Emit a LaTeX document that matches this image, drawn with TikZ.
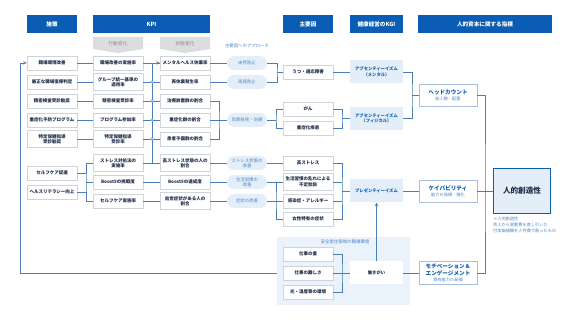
\documentclass[tikz,border=0pt]{standalone}
\usepackage{fontspec}
\setmainfont{Noto Sans CJK JP}
\usetikzlibrary{calc}

\definecolor{hmhead}{HTML}{0B5DB3}
\definecolor{hmline}{HTML}{4B7DB8}
\definecolor{hmpale}{HTML}{E3EEF9}
\definecolor{hmzone}{HTML}{EAF2FB}
\definecolor{hmedge}{HTML}{CFD4DB}
\definecolor{hmcapedge}{HTML}{A9C0DC}
\definecolor{hmtext}{HTML}{1E2C48}
\definecolor{hmsoft}{HTML}{4A86C8}
\definecolor{hmtab}{HTML}{DCDDDF}
\definecolor{hmtabtext}{HTML}{8C8C8C}

\newcommand{\hmsubfont}{\fontsize{4.2}{5}\selectfont\mdseries\color{hmsoft}}

\tikzset{
    hm head/.style={fill=hmhead, text=white, minimum height=18pt, inner sep=0pt,
                    font=\fontsize{5.6}{6.4}\selectfont\bfseries},
    hm cell/.style={draw=hmedge, fill=white, line width=0.5pt, minimum width=50pt,
                    minimum height=14pt, inner sep=1pt, align=center, text=hmtext,
                    font=\fontsize{4.5}{5.4}\selectfont\bfseries},
    hm tall/.style={hm cell, minimum height=17pt},
    hm oval/.style={fill=hmpale, rounded corners=7pt, minimum width=40pt,
                    minimum height=14pt, inner sep=1pt, align=center, text=hmsoft,
                    font=\fontsize{4.4}{5.2}\selectfont},
    hm kgi/.style={fill=hmpale, minimum width=53pt, minimum height=23pt,
                   inner sep=1pt, align=center, text=hmhead,
                   font=\fontsize{4.3}{5.6}\selectfont\bfseries},
    hm capital/.style={draw=hmcapedge, fill=white, line width=0.6pt,
                       minimum width=58pt, minimum height=22pt, inner sep=1pt,
                       align=center, text=hmhead,
                       font=\fontsize{5.6}{6.4}\selectfont\bfseries},
    hm tabtext/.style={text=hmtabtext, font=\fontsize{4.8}{5.6}\selectfont},
    hm label/.style={text=hmsoft, font=\fontsize{4.4}{5.2}\selectfont},
    hm link/.style={draw=hmline, line width=0.6pt},
    hm arrow/.style={hm link, ->, >=stealth},
    hm dot/.style={circle, draw=hmline, fill=white, line width=0.4pt,
                   inner sep=0pt, minimum size=2.6pt},
}

\begin{document}
\begin{tikzpicture}[x=1pt, y=-1pt]
    \useasboundingbox (0,0) rectangle (571,320);
    \fill[white] (0,0) rectangle (571,320);

    % Column headers
    \node[hm head, minimum width=50pt]  (hPlan) at (52,24)    {施策};
    \node[hm head, minimum width=117pt] (hKpi)  at (151.5,24) {KPI};
    \node[hm head, minimum width=50pt]  (hCause) at (308,24)  {主要因};
    \node[hm head, minimum width=53pt]  (hKgi)  at (376.5,24) {健康経営のKGI};
    \node[hm head, minimum width=134pt] (hCap)  at (485,24)   {人的資本に関する指標};

    % KPI sub tabs
    \fill[hmtab] (93,37) -- (143,37) -- (143,49) -- (118,53) -- (93,49) -- cycle;
    \fill[hmtab] (160,37) -- (210,37) -- (210,49) -- (185,53) -- (160,49) -- cycle;
    \node[hm tabtext] (tAct)   at (118,43.5) {行動変化};
    \node[hm tabtext] (tState) at (185,43.5) {状態変化};
    \node[hm label] (lApp) at (247,46) {主要因へのアプローチ};

    % Workplace zone (back layer)
    \node[fill=hmzone, minimum width=133pt, minimum height=68pt, inner sep=0pt]
        (zone) at (343.5,271) {};
    \node[hm label] (lZone) at (345,242) {安全衛生領域の職場環境};

    % Measures
    \node[hm cell] (p1) at (52,63)  {職場環境改善};
    \node[hm cell] (p2) at (52,82)  {厳正な職場復帰判定};
    \node[hm cell] (p3) at (52,101) {精密検査受診勧奨};
    \node[hm cell] (p4) at (52,120) {重症化予防プログラム};
    \node[hm tall] (p5) at (52,139) {特定保健指導\\受診勧奨};
    \node[hm cell] (p6) at (52,173) {セルフケア促進};
    \node[hm cell] (p7) at (52,192) {ヘルスリテラシー向上};

    % KPI: behaviour change
    \node[hm cell] (a1) at (118,63)  {職場改善の実施率};
    \node[hm tall] (a2) at (118,82)  {グループ統一基準の\\適用率};
    \node[hm cell] (a3) at (118,101) {精密検査受診率};
    \node[hm cell] (a4) at (118,120) {プログラム参加率};
    \node[hm tall] (a5) at (118,139) {特定保健指導\\受診率};
    \node[hm tall] (a6) at (118,163) {ストレス対処法の\\実施率};
    \node[hm cell] (a7) at (118,182) {Boost5の挑戦度};
    \node[hm cell] (a8) at (118,201) {セルフケア実施率};

    % KPI: state change
    \node[hm cell] (s1) at (185,63)  {メンタルヘルス休業率};
    \node[hm cell] (s2) at (185,82)  {再休業発生率};
    \node[hm cell] (s3) at (185,101) {治療放置群の割合};
    \node[hm cell] (s4) at (185,120) {重症化群の割合};
    \node[hm cell] (s5) at (185,139) {患者予備群の割合};
    \node[hm tall] (s6) at (185,163) {高ストレス状態の人の\\割合};
    \node[hm cell] (s7) at (185,182) {Boost5の達成度};
    \node[hm tall] (s8) at (185,201) {自覚症状がある人の\\割合};

    % Approaches
    \node[hm oval] (o1) at (247,63)  {未然防止};
    \node[hm oval] (o2) at (247,82)  {再発防止};
    \node[hm oval] (o3) at (247,120) {早期発見・治療};
    \node[hm oval] (o4) at (247,163) {ストレス状態の\\改善};
    \node[hm oval] (o5) at (247,182) {生活習慣の\\改善};
    \node[hm oval] (o6) at (247,201) {症状の改善};

    % Main factors
    \node[hm cell] (f1) at (308,72)    {うつ・適応障害};
    \node[hm cell] (f2) at (308,109)   {がん};
    \node[hm cell] (f3) at (308,128)   {重症化疾患};
    \node[hm cell] (f4) at (308,163)   {高ストレス};
    \node[hm tall] (f5) at (308,182)   {生活習慣の乱れによる\\不定愁訴};
    \node[hm cell] (f6) at (308,201)   {感染症・アレルギー};
    \node[hm cell] (f7) at (308,219)   {女性特有の症状};
    \node[hm cell] (w1) at (308,254)   {仕事の量};
    \node[hm cell] (w2) at (308,273)   {仕事の難しさ};
    \node[hm cell] (w3) at (308,292)   {光・温度等の環境};

    % KGI
    \node[hm kgi] (k1) at (376.5,72)    {アブセンティーイズム\\（メンタル）};
    \node[hm kgi] (k2) at (376.5,118.5) {アブセンティーイズム\\（フィジカル）};
    \node[hm kgi] (k3) at (376.5,191)   {プレゼンティーイズム};
    \node[hm kgi, fill=white, text=hmtext] (k4) at (376.5,273) {働きがい};

    % Human capital
    \node[hm capital] (c1) at (448,95.25) {ヘッドカウント\\[-0.5pt]{\hmsubfont 総人数・配置}};
    \node[hm capital] (c2) at (448,191)   {ケイパビリティ\\[-0.5pt]{\hmsubfont 能力の発揮・強化}};
    \node[hm capital, minimum height=23pt] (c3) at (448,273)
        {モチベーション＆\\エンゲージメント\\[-0.5pt]{\hmsubfont 保有能力の発揮}};
    \node[fill=hmpale, draw=hmhead, line width=1.2pt, minimum width=57pt,
          minimum height=45pt, text=hmtext, font=\fontsize{7.6}{8.4}\selectfont\bfseries]
        (goal) at (522,191) {人的創造性};
    \node[hm label, anchor=north west, align=left, inner sep=0pt,
          font=\fontsize{4.2}{5.8}\selectfont]
        (note) at (493,217) {※人的創造性\\売上から変動費を差し引いた\\付加価値額を人件費で割ったもの};

    % Bus points
    \coordinate (busSelf)  at (86,182);
    \coordinate (busKpi)   at (152,63);
    \coordinate (busState) at (219,120);
    \coordinate (busO1)    at (277,72);
    \coordinate (busO2)    at (276,118.5);
    \coordinate (busO3)    at (276,201);
    \coordinate (busF1)    at (342,118.5);
    \coordinate (busF2)    at (342,191);
    \coordinate (busF3)    at (342,273);
    \coordinate (busK)     at (412,95.25);
    \coordinate (busC)     at (485,191);
    \coordinate (busLoop)  at (20,273);

    % Measures to behaviour KPI
    \foreach \i in {1,...,5}
        \draw[hm link] (p\i) -- (a\i);
    \draw[hm link] (a6.west) -| (busSelf) |- (a8.west);
    \draw[hm link] (a7.west) -- (a7.west -| busSelf);
    \draw[hm link] (p6.east) -- (p6.east -| busSelf);
    \draw[hm link] (p7.east) -- (p7.east -| busSelf);

    % Behaviour KPI to state KPI
    \foreach \i in {1,...,8}
        \draw[hm link] (a\i) -- (s\i);
    \draw[hm arrow] (a6.east -| busKpi) -- (busKpi) -- (s1.west);
    \foreach \i in {2,...,5}
        \node[hm dot] (dot\i) at (a\i.east -| busKpi) {};

    % State KPI to approaches
    \draw[hm link] (s1) -- (o1);
    \draw[hm link] (s2) -- (o2);
    \draw[hm link] (s3.east) -| (busState) |- (s5.east);
    \draw[hm link] (s4) -- (o3);
    \draw[hm link] (s6) -- (o4);
    \draw[hm link] (s7) -- (o5);
    \draw[hm link] (s8) -- (o6);

    % Approaches to main factors
    \draw[hm link] (o1.east) -| (busO1) |- (o2.east);
    \draw[hm link] (busO1) -- (f1.west);
    \draw[hm link] (f2.west) -| (busO2) |- (f3.west);
    \draw[hm link] (o3.east) -- (o3.east -| busO2);
    \draw[hm link] (o4) -- (f4);
    \draw[hm link] (o5) -- (f5);
    \draw[hm link] (f5.west) -| (busO3) |- (f7.west);
    \draw[hm link] (o6) -- (f6);

    % Main factors to KGI
    \draw[hm link] (f1) -- (k1);
    \draw[hm link] (f2.east) -| (busF1) |- (f3.east);
    \draw[hm link] (busF1) -- (k2.west);
    \draw[hm link] (f4.east) -| (busF2) |- (f7.east);
    \draw[hm link] (f5.east) -- (f5.east -| busF2);
    \draw[hm link] (f6.east) -- (f6.east -| busF2);
    \draw[hm link] (busF2) -- (k3.west);
    \draw[hm link] (w1.east) -| (busF3) |- (w3.east);
    \draw[hm link] (w2) -- (k4);
    \draw[hm arrow] (k4) -- (k3);

    % KGI to human capital
    \draw[hm link] (k1.east) -| (busK) |- (k2.east);
    \draw[hm link] (busK) -- (c1.west);
    \draw[hm link] (k3) -- (c2);
    \draw[hm link] (k4) -- (c3);
    \draw[hm link] (c1.east) -| (busC) |- (c3.east);
    \draw[hm link] (c2) -- (goal);

    % Feedback from workplace zone to measures
    \draw[hm arrow] (zone.west |- w2) -| (busLoop) |- (p1.west);
\end{tikzpicture}
\end{document}
